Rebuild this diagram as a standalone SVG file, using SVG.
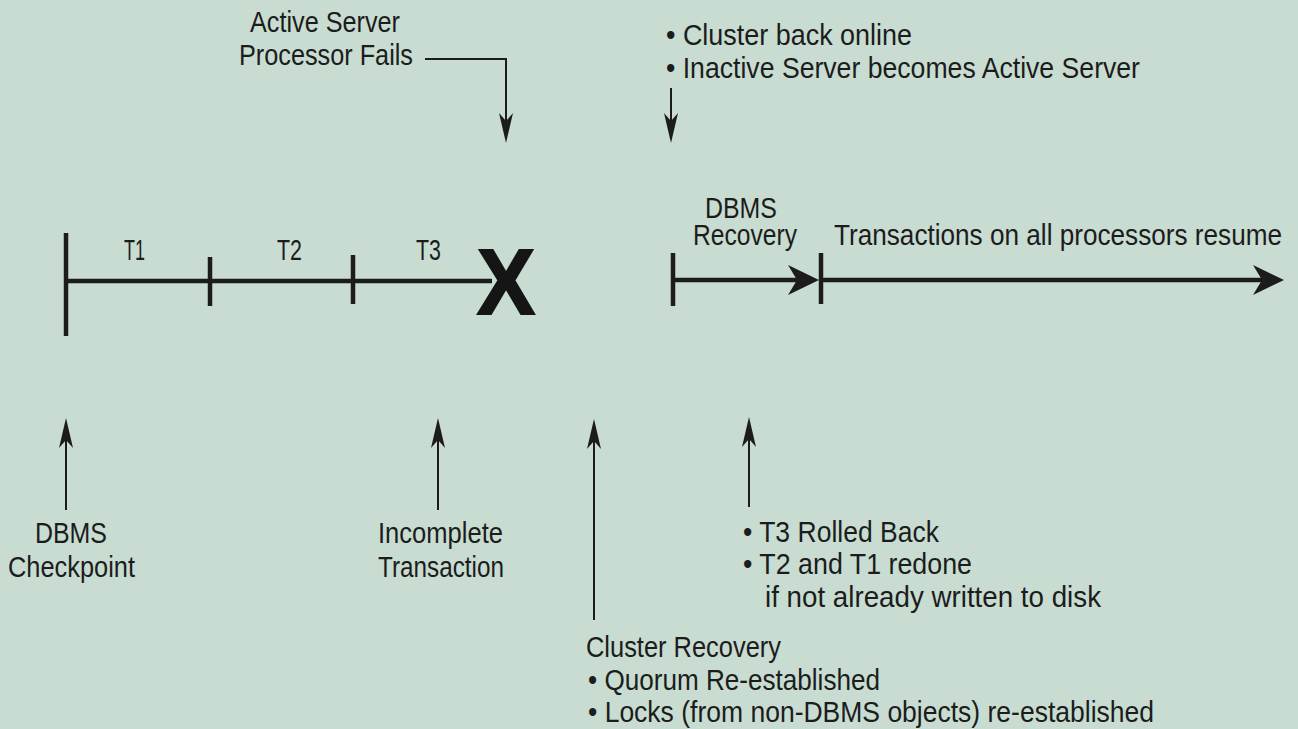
<svg xmlns="http://www.w3.org/2000/svg" width="1298" height="729" viewBox="0 0 1298 729">
  <defs>
    <style>
      .t { font-family: "Liberation Sans Narrow", "Liberation Sans", Arial, sans-serif; font-size: 29px; fill: #1c1c1c; }
      .thin { stroke: #1c1c1c; stroke-width: 2; fill: none; }
      .thick { stroke: #1c1c1c; stroke-width: 4.5; fill: none; }
      .x { font-family: "Liberation Sans", Arial, sans-serif; font-weight: bold; font-size: 92px; fill: #151515; stroke: #151515; stroke-width: 2; }
    </style>
    <marker id="thinHead" markerUnits="userSpaceOnUse" viewBox="0 0 30 14" markerWidth="30" markerHeight="14" refX="8" refY="7" orient="auto">
      <path d="M0,0 L30,7 L0,14 L8,7 Z" fill="#1c1c1c"/>
    </marker>
    <marker id="thickHead" markerUnits="userSpaceOnUse" viewBox="0 0 31 30" markerWidth="31" markerHeight="30" refX="9" refY="15" orient="auto">
      <path d="M0,0 L31,15 L0,30 L9,15 Z" fill="#1c1c1c"/>
    </marker>
  </defs>
  <rect x="0" y="0" width="1298" height="729" fill="#c8dcd2"/>

  <g id="timeline-left">
    <line class="thick" x1="66" y1="281" x2="492" y2="281"/>
    <line class="thick" x1="66" y1="233" x2="66" y2="336"/>
    <line class="thick" x1="210" y1="257" x2="210" y2="306"/>
    <line class="thick" x1="353" y1="255" x2="353" y2="304"/>
  </g>
  <g id="label-t1"><text class="t" x="124" y="260" textLength="21" lengthAdjust="spacingAndGlyphs">T1</text></g>
  <g id="label-t2"><text class="t" x="277" y="260" textLength="25" lengthAdjust="spacingAndGlyphs">T2</text></g>
  <g id="label-t3"><text class="t" x="416" y="260" textLength="25" lengthAdjust="spacingAndGlyphs">T3</text></g>
  <g id="failure-x"><text class="x" x="477" y="314" textLength="58" lengthAdjust="spacingAndGlyphs">X</text></g>

  <g id="timeline-right">
    <line class="thick" x1="673" y1="253" x2="673" y2="306"/>
    <line class="thick" x1="821" y1="253" x2="821" y2="304"/>
  </g>

  <g id="connectors">
    <line class="thick" x1="673" y1="280" x2="797" y2="280" marker-end="url(#thickHead)"/>
    <line class="thick" x1="821" y1="280" x2="1262" y2="280" marker-end="url(#thickHead)"/>
    <path class="thin" d="M425,59 H506 V121" marker-end="url(#thinHead)"/>
    <line class="thin" x1="671" y1="88" x2="671" y2="121" marker-end="url(#thinHead)"/>
    <line class="thin" x1="66" y1="510" x2="66" y2="440" marker-end="url(#thinHead)"/>
    <line class="thin" x1="438" y1="510" x2="438" y2="440" marker-end="url(#thinHead)"/>
    <line class="thin" x1="594" y1="620" x2="594" y2="441" marker-end="url(#thinHead)"/>
    <line class="thin" x1="749" y1="507" x2="749" y2="439" marker-end="url(#thinHead)"/>
  </g>

  <g id="active-server-fails">
    <text class="t" x="250" y="32" textLength="150" lengthAdjust="spacingAndGlyphs">Active Server</text>
    <text class="t" x="239" y="65" textLength="174" lengthAdjust="spacingAndGlyphs">Processor Fails</text>
  </g>

  <g id="cluster-back-online">
    <text class="t" x="666" y="45" textLength="246" lengthAdjust="spacingAndGlyphs">• Cluster back online</text>
    <text class="t" x="666" y="78" textLength="474" lengthAdjust="spacingAndGlyphs">• Inactive Server becomes Active Server</text>
  </g>

  <g id="dbms-recovery">
    <text class="t" x="705" y="218" textLength="72" lengthAdjust="spacingAndGlyphs">DBMS</text>
    <text class="t" x="693" y="245" textLength="104" lengthAdjust="spacingAndGlyphs">Recovery</text>
  </g>

  <g id="transactions-resume">
    <text class="t" x="834" y="245" textLength="448" lengthAdjust="spacingAndGlyphs">Transactions on all processors resume</text>
  </g>

  <g id="dbms-checkpoint">
    <text class="t" x="35" y="543" textLength="72" lengthAdjust="spacingAndGlyphs">DBMS</text>
    <text class="t" x="8" y="577" textLength="127" lengthAdjust="spacingAndGlyphs">Checkpoint</text>
  </g>

  <g id="incomplete-transaction">
    <text class="t" x="378" y="543" textLength="125" lengthAdjust="spacingAndGlyphs">Incomplete</text>
    <text class="t" x="378" y="577" textLength="126" lengthAdjust="spacingAndGlyphs">Transaction</text>
  </g>

  <g id="rollback">
    <text class="t" x="743" y="542" textLength="196" lengthAdjust="spacingAndGlyphs">• T3 Rolled Back</text>
    <text class="t" x="743" y="574" textLength="229" lengthAdjust="spacingAndGlyphs">• T2 and T1 redone</text>
    <text class="t" x="765" y="607" textLength="336" lengthAdjust="spacingAndGlyphs">if not already written to disk</text>
  </g>

  <g id="cluster-recovery">
    <text class="t" x="586" y="657" textLength="195" lengthAdjust="spacingAndGlyphs">Cluster Recovery</text>
    <text class="t" x="588" y="690" textLength="292" lengthAdjust="spacingAndGlyphs">• Quorum Re-established</text>
    <text class="t" x="588" y="722" textLength="566" lengthAdjust="spacingAndGlyphs">• Locks (from non-DBMS objects) re-established</text>
  </g>
</svg>
